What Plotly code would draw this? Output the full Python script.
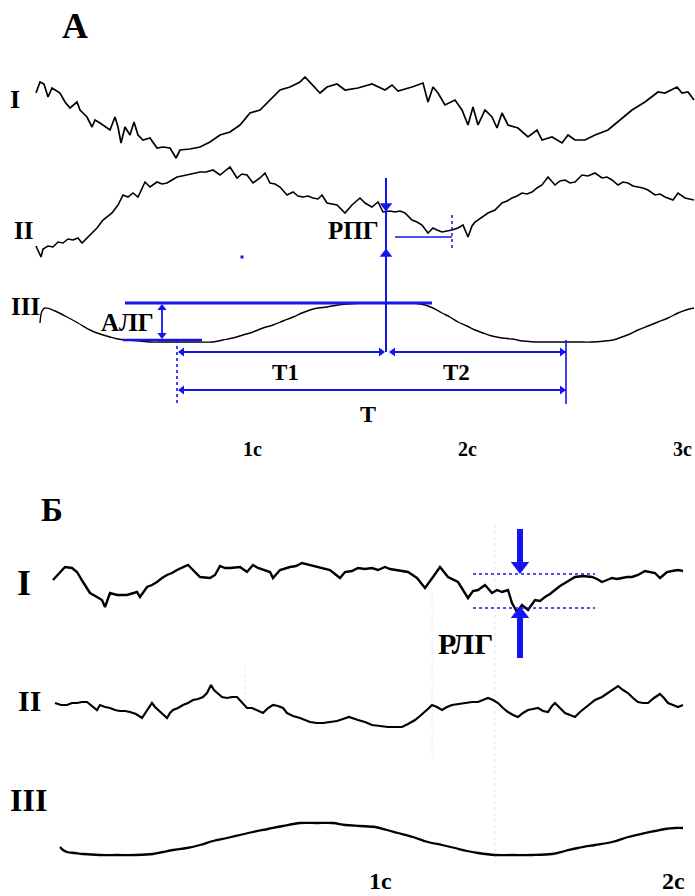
import plotly.graph_objects as go

# Panel A, trace I
a1_x = [36,40,44,48,52,55,60,65,70,77,80,87,92,95,100,110,115,118,121,125,
        130,134,138,143,150,157,163,170,176,180,190,200,210,220,230,240,250,260,270,280,
        290,300,305,310,320,327,337,345,358,372,385,392,398,412,423,428,433,438,445,455,
        462,468,473,478,485,492,497,502,508,518,528,537,542,552,562,568,575,585,595,608,
        618,632,645,658,665,677,682,688,694]
a1_y = [93,82,84,97,88,90,93,102,108,102,110,117,127,120,123,130,117,127,143,127,
        135,122,135,140,138,148,147,148,158,150,149,147,142,135,132,125,113,110,100,90,
        87,82,77,82,93,87,84,90,88,84,90,85,91,87,83,102,87,93,105,100,
        110,125,107,125,110,117,128,113,125,128,137,130,140,137,143,135,140,140,135,130,
        122,110,102,92,93,87,93,92,100]

# Panel A, trace II
a2_x = [36,38,41,43,48,53,58,63,68,73,78,82,86,90,97,103,108,112,118,123,
        128,133,138,145,150,157,162,167,172,177,182,187,193,200,206,213,220,225,230,237,
        242,247,253,260,265,270,275,280,287,293,298,303,308,313,318,322,327,332,337,345,
        352,360,365,372,378,383,
        390,395,400,405,412,417,422,428,433,437,442,447,452,458,463,468,472,475,482,488,
        495,502,507,512,517,522,527,532,537,542,548,555,560,565,570,575,582,588,595,602,
        607,612,618,623,628,633,638,643,648,655,660,665,673,678,685,694]
a2_y = [246,250,257,249,246,247,242,243,239,240,238,243,239,235,228,220,216,213,205,195,
        197,193,197,182,187,182,184,183,180,177,176,175,174,172,172,170,175,171,167,178,
        174,175,183,178,173,183,184,187,195,192,196,197,196,198,199,195,203,204,205,213,
        205,198,203,207,202,212,
        211,212,211,213,220,222,225,233,228,230,232,231,230,228,225,237,226,222,217,213,
        210,203,201,198,196,193,194,192,188,185,177,185,181,180,183,182,175,176,173,178,
        177,180,185,182,183,186,187,188,190,195,194,197,200,193,198,200]

# Panel A, trace III
a3_x = [40,42,45,55,67,78,90,100,110,118,127,140,150,165,183,200,213,223,233,243,
        253,263,273,283,293,302,310,318,327,338,349,365,388,412,425,433,442,450,458,467,
        475,483,492,502,512,523,535,548,562,577,592,605,613,622,630,638,648,658,668,678,
        686,694]
a3_y = [323,311,308,311,317,323,330,334,337,339,340,341,342,342,342,342,342,340,338,335,
        332,328,325,321,317,313,310,308,307,305,304,303,303,303,305,308,313,317,322,326,
        330,333,336,338,339,341,342,342,342,342,342,341,340,337,334,330,326,322,318,313,
        310,308]

# Panel B, trace I
b1_x = [53,60,65,72,77,83,90,97,102,105,110,117,127,137,140,147,152,157,162,167,
        172,177,183,188,193,200,210,215,220,225,230,240,247,253,258,263,270,273,280,290,
        296,302,310,315,320,330,340,345,352,358,365,372,378,385,390,395,402,408,417,425,
        433,440,448,458,463,468,473,478,485,492,497,502,508,512,517,522,528,535,540,545,
        550,555,560,565,570,575,583,592,597,602,607,612,617,622,627,632,638,645,650,655,
        660,667,672,678,683]
b1_y = [580,573,567,568,572,582,593,597,600,607,593,595,595,592,597,587,585,582,578,575,
        573,570,567,565,570,577,578,575,566,568,568,567,572,565,568,570,572,578,570,567,
        566,563,565,566,567,570,578,572,571,568,569,568,570,567,569,570,571,572,578,588,
        577,567,577,582,590,598,591,590,585,593,590,592,590,603,612,605,610,600,601,597,
        594,590,586,583,580,577,576,577,579,582,580,578,579,578,577,577,575,571,572,573,
        578,572,571,570,571]

# Panel B, trace II
b2_x = [55,61,67,72,77,82,87,92,97,100,105,110,115,120,125,130,136,142,147,152,
        155,158,163,167,170,173,178,183,188,193,198,203,207,211,214,217,222,227,232,237,
        242,247,252,257,263,268,273,278,283,287,293,300,305,310,317,323,330,337,343,349,
        358,365,372,380,388,395,402,408,415,420,425,429,432,437,442,447,452,458,465,472,
        478,483,488,493,498,503,508,513,518,523,528,533,538,543,548,552,555,560,565,570,
        575,580,585,590,595,602,608,613,618,623,628,633,638,643,648,654,660,664,668,673,
        678,683]
b2_y = [703,705,705,703,703,702,702,706,710,705,707,708,710,711,711,712,714,718,710,703,
        707,710,714,718,713,710,708,705,703,700,699,697,693,685,690,693,697,698,697,697,
        702,708,708,710,713,708,705,706,708,713,716,718,720,722,723,723,722,721,719,717,
        720,722,725,726,727,727,727,724,720,716,712,708,705,707,710,707,705,704,703,702,
        702,700,698,700,703,708,712,715,717,713,710,709,708,711,712,706,703,708,713,715,
        717,712,708,704,700,697,693,689,686,690,693,698,702,703,703,698,694,698,703,705,
        707,705]

# Panel B, trace III
b3_x = [60,63,67,75,83,100,117,135,153,163,173,187,200,213,227,240,253,268,283,300,
        317,333,345,360,375,387,398,413,428,442,455,467,478,495,512,532,552,565,578,595,
        612,628,645,655,665,675,683]
b3_y = [847,850,852,853,854,855,855,855,854,852,850,848,845,841,838,835,832,829,826,823,
        823,823,825,826,827,830,833,837,842,845,848,851,853,855,855,855,854,851,848,845,
        842,837,833,831,829,828,828]

# Time marks (seconds) and their labels
secs_A = [1, 2, 3]
secs_B = [1, 2]
sec_labels_A = ["1с", "2с", "3с"]
sec_labels_B = ["1с", "2с"]

# Cycle measurement instants on trace A-III (start trough, crest, end trough)
cycle_A = [177, 386, 566]

# ---------------- figure ----------------
W, H = 695, 896
BLUE = "#1414ee"
FONT = "Liberation Serif"

fig = go.Figure()

def line(xs, ys, color="black", width=1.6, dash=None, shape="linear"):
    fig.add_trace(go.Scatter(x=xs, y=ys, mode="lines", hoverinfo="skip", showlegend=False,
                             line=dict(color=color, width=width, dash=dash, shape=shape)))

def head(x, y, sym, size=9, color=BLUE):
    fig.add_trace(go.Scatter(x=[x], y=[y], mode="markers", hoverinfo="skip", showlegend=False,
                             marker=dict(symbol=sym, size=size, color=color, line=dict(width=0))))

def text(x, y, s, size, color="black"):
    fig.add_annotation(x=x, y=y, text="<b>%s</b>" % s, showarrow=False,
                       font=dict(family=FONT, size=size, color=color),
                       xanchor="center", yanchor="middle")

# faint dotted guides
for gx, g0, g1 in [(432, 592, 760), (495, 525, 865), (245, 668, 700)]:
    line([gx, gx], [g0, g1], color="#e6e6e6", width=1, dash="dot")

# signal traces
line(a1_x, a1_y, width=1.7)
line(a2_x, a2_y, width=1.6)
line(a3_x, a3_y, width=1.4, shape="spline")
line(b1_x, b1_y, width=2.4)
line(b2_x, b2_y, width=2.2)
line(b3_x, b3_y, width=2.3, shape="spline")

# ---------- Panel A measurements ----------
t0, tp, t1 = cycle_A
top = min(a3_y)
bot = max(a3_y) - 2
# АЛГ
line([125, 432], [top, top], color=BLUE, width=3)
line([123, 202], [bot, bot], color=BLUE, width=2.5)
line([162, 162], [top + 4, bot - 4], color=BLUE, width=1.8)
head(162, top + 5, "triangle-up", 8)
head(162, bot - 5, "triangle-down", 8)
# РПГ
line([tp, tp], [178, 352], color=BLUE, width=2)
head(tp, 206, "triangle-down", 11)
head(tp, 254, "triangle-up", 11)
line([395, 452], [237, 237], color=BLUE, width=1.4)
line([452, 452], [215, 248], color=BLUE, width=1.5, dash="dot")
# T1, T2, T
yT1, yT = 352, 390
line([t0, t0], [340, 404], color=BLUE, width=1.6, dash="dot")
line([t1, t1], [340, 404], color=BLUE, width=1.6)
line([t0 + 2, tp - 2], [yT1, yT1], color=BLUE, width=2)
line([tp + 4, t1], [yT1, yT1], color=BLUE, width=2)
line([t0 + 2, t1], [yT, yT], color=BLUE, width=2)
head(t0 + 5, yT1, "triangle-left", 8)
head(tp - 5, yT1, "triangle-right", 8)
head(tp + 7, yT1, "triangle-left", 8)
head(t1 - 4, yT1, "triangle-right", 8)
head(t0 + 5, yT, "triangle-left", 8)
head(t1 - 4, yT, "triangle-right", 8)
head(242, 257, "square", 3)

# ---------- Panel B measurements ----------
line([473, 595], [574, 574], color=BLUE, width=1.6, dash="dot")
line([473, 595], [608, 608], color=BLUE, width=1.6, dash="dot")
line([520, 520], [529, 563], color=BLUE, width=6)
head(520, 566, "triangle-down", 16)
line([520, 520], [618, 658], color=BLUE, width=6)
head(520, 614, "triangle-up", 16)

# ---------- labels ----------
text(75, 26, "А", 36)
text(15, 99, "I", 26)
text(23, 230, "II", 25)
text(25, 306, "III", 25)
text(353, 230, "РПГ", 25)
text(127, 322, "АЛГ", 25)
text(285, 372, "T1", 23)
text(456, 372, "T2", 23)
text(368, 414, "T", 24)

text(52, 510, "Б", 33)
text(24, 583, "I", 36)
text(29, 700, "II", 30)
text(28, 800, "III", 32)
text(465, 643, "РЛГ", 30)

# second marks: panel A 215 px/s from 37, panel B 293 px/s from 87
for s, lab in zip(secs_A, sec_labels_A):
    text(37 + 215 * s, 449, lab, 20)
for s, lab in zip(secs_B, sec_labels_B):
    text(87 + 293 * s, 881, lab, 24)

fig.update_layout(
    width=W, height=H, margin=dict(l=0, r=0, t=0, b=0),
    paper_bgcolor="white", plot_bgcolor="white",
    xaxis=dict(range=[0, W], visible=False, fixedrange=True),
    yaxis=dict(range=[H, 0], visible=False, fixedrange=True),
    showlegend=False,
)

fig.write_html("out.html", config={"displayModeBar": False, "staticPlot": True},
               post_script="document.body.style.margin='0';document.body.style.overflow='hidden';")
